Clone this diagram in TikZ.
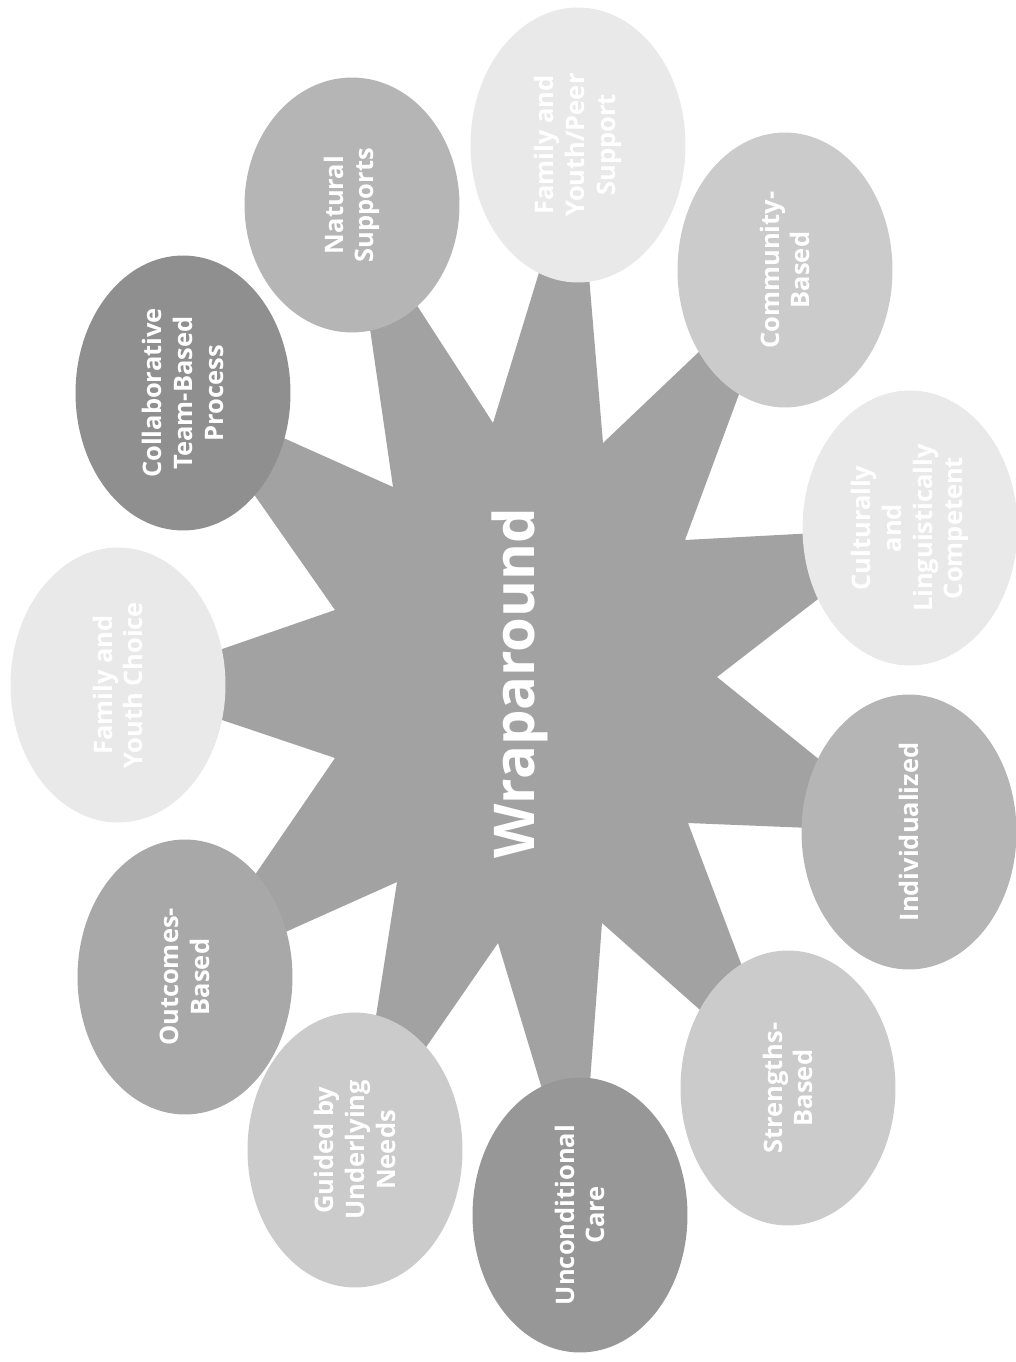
\documentclass[tikz,border=0pt]{standalone}
\usepackage{fontspec}
\setmainfont{Open Sans}
\usetikzlibrary{shapes.geometric}
\definecolor{starfill}{HTML}{A2A2A2}
\definecolor{gdark}{HTML}{8F8F8F}
\definecolor{gmid}{HTML}{A8A8A8}
\definecolor{gsoft}{HTML}{B5B5B5}
\definecolor{glight}{HTML}{CBCBCB}
\definecolor{gpale}{HTML}{E9E9E9}
\tikzset{
  principle/.style={ellipse, rotate=90, minimum width=5.5cm, minimum height=4.3cm,
    inner sep=0pt, text=white, align=center,
    font=\bfseries\fontsize{14.5}{17.5}\selectfont},
}
\begin{document}
\begin{tikzpicture}[x=.02cm, y=-.02cm]
	\useasboundingbox (0,0) rectangle (1015,1362);
	\coordinate (nat) at (352,205);
	\coordinate (peer) at (578,145);
	\coordinate (comm) at (785,270);
	\coordinate (cult) at (910,528);
	\coordinate (indiv) at (909,832);
	\coordinate (stren) at (788,1088);
	\coordinate (uncond) at (580,1215);
	\coordinate (needs) at (355,1150);
	\coordinate (outc) at (185,977);
	\coordinate (choice) at (118,685);
	\coordinate (collab) at (183,393);
	\fill[starfill] (nat) -- (493,423) -- (peer) -- (603,443) -- (comm) -- (685,540)
		-- (cult) -- (717,677) -- (indiv) -- (688,823) -- (stren) -- (602,923)
		-- (uncond) -- (498,943) -- (needs) -- (397,882) -- (outc) -- (335,758)
		-- (choice) -- (335,610) -- (collab) -- (393,487) -- cycle;
	\node[principle, fill=gsoft, minimum width=5.1cm] (natural) at (nat) {Natural\\Supports};
	\node[principle, fill=gpale] (peersupport) at (peer) {Family and\\Youth/Peer\\Support};
	\node[principle, fill=glight] (community) at (comm) {Community-\\Based};
	\node[principle, fill=gpale] (cultural) at (cult) {Culturally\\and\\Linguistically\\Competent};
	\node[principle, fill=gsoft] (individual) at (indiv) {Individualized};
	\node[principle, fill=glight] (strengths) at (stren) {Strengths-\\Based};
	\node[principle, fill=gmid!90!black] (unconditional) at (uncond) {Unconditional\\Care};
	\node[principle, fill=glight] (underlying) at (needs) {Guided by\\Underlying\\Needs};
	\node[principle, fill=gmid] (outcomes) at (outc) {Outcomes-\\Based};
	\node[principle, fill=gpale] (youthchoice) at (choice) {Family and\\Youth Choice};
	\node[principle, fill=gdark] (teamprocess) at (collab) {Collaborative\\Team-Based\\Process};
	\node[rotate=90, text=white, font=\bfseries\fontsize{32}{38}\selectfont] (wrap) at (520,683) {Wraparound};
\end{tikzpicture}
\end{document}
